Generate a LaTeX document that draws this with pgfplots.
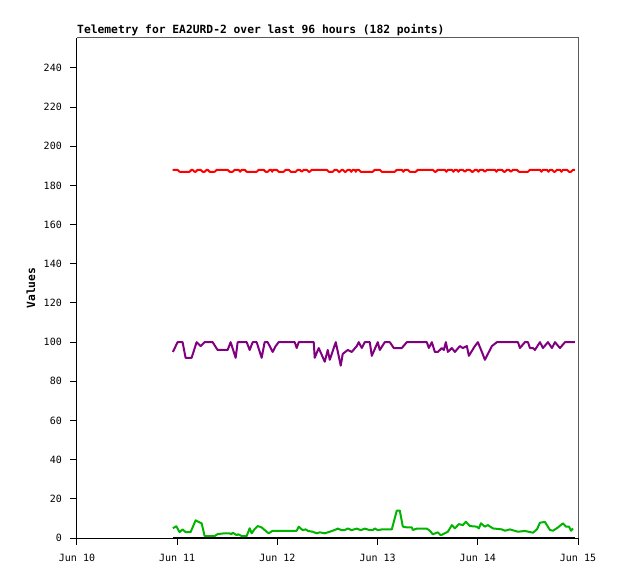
\documentclass[border=0pt]{standalone}
\usepackage{fontspec}
\setmainfont{DejaVu Sans Mono}
\usepackage{pgfplots}
\pgfplotsset{compat=1.18}
\definecolor{tred}{RGB}{255,0,0}
\definecolor{tpurple}{RGB}{128,0,128}
\definecolor{tgreen}{RGB}{0,180,0}
\definecolor{frame}{RGB}{90,90,90}
\begin{document}
\begin{tikzpicture}[x=1pt,y=1pt]
\path[use as bounding box] (-77pt,-41pt) rectangle (541pt,538pt);
\begin{axis}[
  at={(0,0)}, anchor=south west,
  scale only axis, width=501pt, height=500pt,
  xmin=0, xmax=120, ymin=0, ymax=255.3,
  axis lines=left, axis line style={-, black, line width=1pt},
  tick align=outside, major tick length=7pt,
  tick style={black, line width=1pt},
  xtick={0,24,48,72,96,120},
  xticklabels={Jun 10,Jun 11,Jun 12,Jun 13,Jun 14,Jun 15},
  ytick={0,20,...,240},
  /pgf/number format/assume math mode=true,
  ticklabel style={font=\fontsize{10}{12}\selectfont, inner sep=0pt},
  xticklabel style={anchor=north, yshift=-9pt},
  yticklabel style={anchor=east, xshift=-8pt},
  title={Telemetry for EA2URD-2 over last 96 hours (182 points)},
  every axis title/.style={at={(axis description cs:0,1)}, anchor=base west, yshift=4pt, inner sep=0pt,
    font=\bfseries\fontsize{11.3}{13}\selectfont},
  ylabel={Values},
  ylabel style={at={(axis description cs:-0.0838,0.5)}, anchor=base, inner sep=0pt,
    font=\bfseries\fontsize{11.3}{13}\selectfont},
  clip=false,
  every axis plot/.append style={line width=2pt, line join=round, mark=none},
]
\draw[frame, line width=1pt] (rel axis cs:0,1) -- (rel axis cs:1,1) -- (rel axis cs:1,0);
\addplot[tred] coordinates {
(22.90,188)(24.09,188)(24.57,187)(26.97,187)(27.45,188)(27.69,188)(28.17,187)(28.41,187)
(28.89,188)(29.61,188)(30.09,187)(30.57,187)(31.05,188)(31.29,188)(31.77,187)(32.97,187)
(33.44,188)(36.08,188)(36.56,187)(37.28,187)(37.76,188)(38.72,188)(39.08,187)(39.44,188)
(40.16,188)(40.64,187)(43.03,187)(43.51,188)(44.71,188)(45.19,187)(45.67,187)(46.15,188)
(46.51,188)(46.75,187)(46.99,188)(47.83,188)(48.31,187)(49.51,187)(49.99,188)(50.71,188)
(51.19,187)(52.39,187)(52.86,188)(53.34,188)(53.82,187)(54.30,188)(55.02,188)(55.50,187)
(55.74,187)(56.22,188)(59.82,188)(60.30,187)(61.26,187)(61.74,188)(62.22,188)(62.69,187)
(62.93,187)(63.41,188)(63.65,188)(64.13,187)(64.37,187)(64.85,188)(65.33,188)(65.69,187)
(66.05,188)(66.53,188)(66.77,187)(67.01,188)(67.49,188)(67.97,187)(70.85,187)(71.33,188)
(72.52,188)(73.00,187)(76.12,187)(76.60,188)(77.80,188)(78.16,187)(78.52,188)(79.24,188)
(79.72,187)(81.16,187)(81.63,188)(85.23,188)(85.71,187)(85.95,187)(86.43,188)(88.11,188)
(88.47,187)(88.83,188)(89.79,188)(90.15,187)(90.51,188)(90.98,188)(91.34,187)(91.70,188)
(92.42,188)(92.90,187)(93.38,188)(94.10,188)(94.58,187)(94.82,187)(95.30,188)(95.78,188)
(96.14,187)(96.50,188)(97.22,188)(97.70,187)(98.18,188)(100.10,188)(100.46,187)(100.81,188)
(101.77,188)(102.25,187)(102.49,187)(102.97,188)(103.45,188)(103.93,187)(104.41,188)(105.37,188)
(105.85,187)(108.01,187)(108.49,188)(110.88,188)(111.24,187)(111.60,188)(112.56,188)(112.92,187)
(113.28,188)(113.76,188)(114.24,187)(114.48,187)(114.96,188)(115.68,188)(116.04,187)(116.40,188)
(117.36,188)(117.84,187)(118.32,187)(118.80,188)(119.28,188)
};
\addplot[tpurple] coordinates {
(22.97,95)(24.09,100)(25.29,100)(26.01,92)(27.45,92)(28.65,100)(29.61,98)(30.57,100)
(32.49,100)(33.68,96)(36.08,96)(36.80,100)(38.00,92)(38.48,100)(40.64,100)(41.36,96)
(42.08,100)(43.03,100)(44.23,92)(44.95,100)(45.67,100)(46.87,95)(47.59,98)(48.31,100)
(52.15,100)(52.62,97)(53.10,100)(56.70,100)(56.94,92)(57.90,97)(59.34,90)(60.06,96)
(60.54,91)(61.98,100)(63.17,88)(63.65,94)(64.85,96)(65.81,95)(67.01,98)(67.49,100)
(68.21,97)(68.93,100)(70.13,100)(70.61,93)(72.04,100)(72.52,96)(73.72,100)(74.92,100)
(75.88,97)(77.80,97)(79.00,100)(83.79,100)(84.27,97)(84.99,100)(85.71,95)(86.43,95)
(87.39,97)(87.87,96)(88.35,100)(88.83,95)(89.79,97)(90.51,95)(91.70,98)(92.42,97)
(93.38,98)(93.86,93)(95.30,98)(96.02,100)(96.98,95)(97.70,91)(99.38,98)(100.58,100)
(105.61,100)(106.09,97)(107.29,100)(108.01,100)(108.49,97)(109.21,97)(109.68,96)(110.88,100)
(111.60,97)(112.80,100)(113.76,97)(114.48,100)(115.68,97)(116.88,100)(119.28,100)
};
\addplot[tgreen] coordinates {
(22.97,5)(23.78,6)(24.57,3)(25.29,4.4)(26.01,3)(27.21,3)(28.41,9)(29.85,7.5)
(30.57,1)(32.97,1)(33.68,2)(35.36,2.4)(36.56,2.4)(36.97,1.9)(37.28,2.7)(38.24,1.5)
(38.60,1.9)(39.44,1)(40.64,1)(41.36,5)(41.84,2.4)(42.56,4.6)(43.27,6.1)(44.23,5.4)
(45.43,3.2)(45.91,2.4)(46.87,3.7)(52.62,3.7)(53.10,5.8)(54.06,4)(54.78,4.4)(55.34,3.6)
(56.46,3.2)(57.42,2.4)(58.14,2.9)(59.34,2.4)(60.54,3.2)(61.74,4.1)(62.45,4.8)(63.41,4)
(64.13,4)(64.85,4.9)(65.74,4)(67.01,4.8)(67.97,4)(68.93,4.8)(70.13,4)(70.85,4)
(71.33,4.9)(72.04,4)(73.00,4.4)(75.40,4.4)(76.60,14)(77.32,14)(78.04,5.8)(79.00,5.4)
(80.20,5.4)(80.43,4.1)(81.39,4.8)(83.79,4.8)(84.51,3.7)(85.23,1.9)(86.43,2.9)(87.15,1.4)
(88.11,2.4)(88.83,3.2)(89.79,6.6)(90.51,4.9)(91.46,7.1)(92.42,6.6)(93.14,8.3)(94.10,6.1)
(95.78,5.8)(96.26,4.9)(96.74,7.5)(97.70,5.8)(98.42,6.6)(99.62,4.9)(101.77,4.4)(102.49,3.7)
(103.69,4.4)(105.61,3.2)(107.29,3.6)(109.21,2.7)(110.16,4.4)(110.88,7.8)(112.08,8.2)(113.28,4.1)
(114.00,3.7)(115.20,5.4)(116.40,7.5)(117.12,5.8)(117.84,5.8)(118.32,3.7)(118.80,4.9)
};
\addplot[black, line width=2.5pt] coordinates {(22.97,0)(119.28,0)};
\end{axis}
\end{tikzpicture}
\end{document}
